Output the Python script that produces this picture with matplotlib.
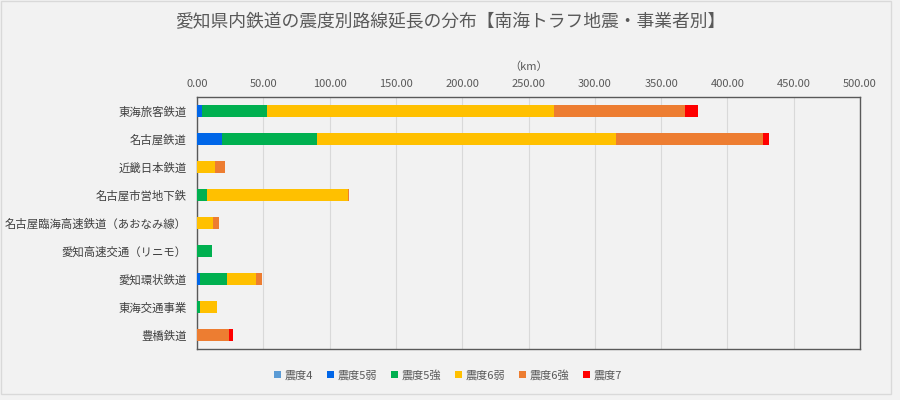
"""
Aichi railway route length by seismic intensity (Nankai Trough quake, by operator).
Stacked horizontal bars, Excel-like styling.
"""

import matplotlib
matplotlib.use('Agg')
import matplotlib.pyplot as plt
from matplotlib.patches import Rectangle
from matplotlib.ticker import FormatStrFormatter
import numpy as np

plt.rcParams['font.family'] = ['Noto Sans CJK JP', 'DejaVu Sans']

BG = '#F2F2F2'
TEXT = '#595959'
GRID = '#D9D9D9'

# operators (top to bottom)
operators = [
    '東海旅客鉄道', '名古屋鉄道', '近畿日本鉄道', '名古屋市営地下鉄',
    '名古屋臨海高速鉄道（あおなみ線）', '愛知高速交通（リニモ）', '愛知環状鉄道',
    '東海交通事業', '豊橋鉄道',
]

# route length (km) per intensity class
shindo4 = [0, 0, 0, 0, 0, 0, 0, 0, 0]
shindo5_weak = [3.5, 19.1, 0, 0, 0, 0, 2.3, 0, 0]
shindo5_strong = [49.6, 71.5, 0, 7.5, 0, 11.3, 20.4, 2.3, 0]
shindo6_weak = [216.5, 225.1, 13.6, 106.3, 12.1, 0, 21.9, 12.8, 0]
shindo6_strong = [98.4, 111.3, 7.5, 0.5, 4.5, 0, 4.5, 0, 24.2]
shindo7 = [10.0, 4.0, 0, 0, 0, 0, 0, 0, 3.0]

series = [
    ('震度4', shindo4, '#5B9BD5'),
    ('震度5弱', shindo5_weak, '#0066E8'),
    ('震度5強', shindo5_strong, '#00B050'),
    ('震度6弱', shindo6_weak, '#FFC000'),
    ('震度6強', shindo6_strong, '#ED7D31'),
    ('震度7', shindo7, '#FF0000'),
]

fig = plt.figure(figsize=(9, 4), dpi=100)
fig.patch.set_facecolor(BG)
ax = fig.add_axes([197 / 900, 1 - 349 / 400, 663 / 900, 252 / 400])
ax.set_facecolor(BG)

y = np.arange(len(operators))
left = np.zeros(len(operators))
for name, vals, color in series:
    vals = np.array(vals, dtype=float)
    ax.barh(y, vals, left=left, height=0.4, color=color, label=name,
            edgecolor='none', zorder=3)
    left += vals

ax.set_xlim(0, 500)
ax.set_ylim(len(operators) - 0.5, -0.5)
ax.set_xticks(np.arange(0, 501, 50))
ax.xaxis.set_major_formatter(FormatStrFormatter('%.2f'))
ax.xaxis.tick_top()
ax.xaxis.set_label_position('top')
ax.set_xlabel('（km）', fontsize=8, color=TEXT, labelpad=6)
ax.set_yticks(y)
ax.set_yticklabels(operators)
ax.tick_params(axis='x', length=0, labelsize=8, colors=TEXT, pad=6)
ax.tick_params(axis='y', length=0, labelsize=8.2, colors='#404040', pad=7.5)
ax.grid(axis='x', color=GRID, linewidth=0.8, zorder=0)
for s in ax.spines.values():
    s.set_color('#595959')
    s.set_linewidth(1.0)

fig.text(0.5, 1 - 22 / 400, '愛知県内鉄道の震度別路線延長の分布【南海トラフ地震・事業者別】',
         ha='center', va='center', fontsize=12.8, color=TEXT)

fig.legend(loc='center', bbox_to_anchor=(448 / 900, 1 - 375 / 400), ncol=6,
           frameon=False, fontsize=8, handlelength=0.6, handleheight=0.6,
           handletextpad=0.3, columnspacing=1.3, labelcolor=TEXT)

fig.patches.append(Rectangle((0.5 / 900, 1 - 394 / 400), 890 / 900, 393 / 400,
                             transform=fig.transFigure, fill=False,
                             edgecolor=GRID, linewidth=1))

fig.savefig('out.png', dpi=100, facecolor=fig.get_facecolor())
